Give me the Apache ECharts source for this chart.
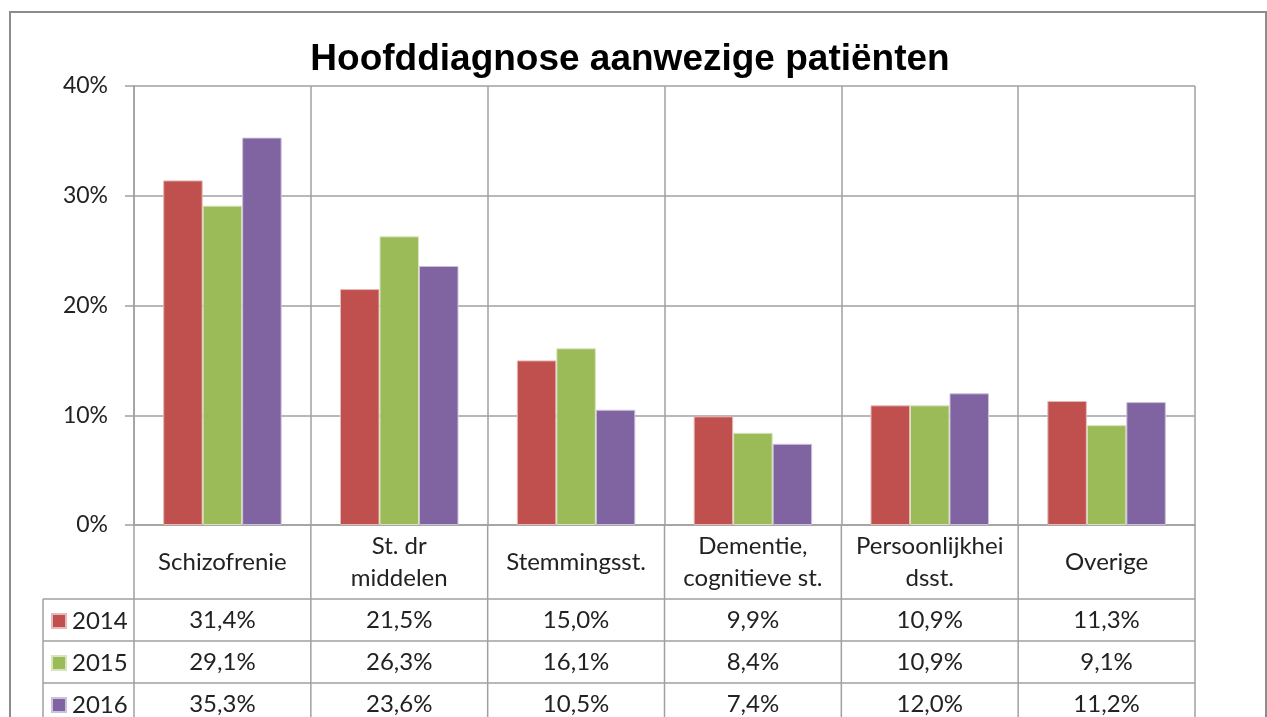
<!DOCTYPE html>
<html>
<head>
<meta charset="utf-8">
<script src="https://cdn.jsdelivr.net/npm/echarts@6/dist/echarts.min.js"></script>
<style>
  html, body { margin:0; padding:0; background:#fff; }
  #main { width:1267px; height:717px; }
</style>
</head>
<body>
<div id="main"></div>
<script>
// data
const categories = ['Schizofrenie', 'St. dr\nmiddelen', 'Stemmingsst.', 'Dementie,\ncognitieve st.', 'Persoonlijkhei\ndsst.', 'Overige']
const years = ['2014', '2015', '2016']
const v2014 = [31.4, 21.5, 15.0, 9.9, 10.9, 11.3]
const v2015 = [29.1, 26.3, 16.1, 8.4, 10.9, 9.1]
const v2016 = [35.3, 23.6, 10.5, 7.4, 12.0, 11.2]
const yTicks = [0, 10, 20, 30, 40]

const rows = [v2014, v2015, v2016]
const colors = ['#c0504d', '#9bbb59', '#8064a2']
const borders = ['#e6b8b7', '#d7e4bd', '#ccc1da']
const font = 'Lato, "Open Sans", sans-serif'
const textColor = '#222'
const gridColor = '#a0a0a0'
const fs = 24

// layout
const L = 134, R = 1195, T = 86, axisY = 525
const tableLeft = 43
const rowLines = [599, 641, 683, 725]

function fmt(v) {
  return v.toFixed(1).replace('.', ',') + '%'
}

let myChart = echarts.init(document.getElementById('main'))

let xAxes = [{
  type: 'category',
  data: categories,
  axisLine: { lineStyle: { color: gridColor, width: 1.5 } },
  axisTick: { show: false },
  splitLine: { show: true, lineStyle: { color: gridColor, width: 1.5 } },
  axisLabel: {
    interval: 0,
    margin: 37,
    verticalAlign: 'middle',
    lineHeight: 32,
    fontSize: fs,
    fontFamily: font,
    color: textColor
  }
}]
rows.forEach((vals, k) => {
  xAxes.push({
    type: 'category',
    position: 'bottom',
    data: categories,
    axisLine: { show: false },
    axisTick: { show: false },
    axisLabel: {
      interval: 0,
      margin: 95 + 42 * k,
      verticalAlign: 'middle',
      fontSize: fs,
      fontFamily: font,
      color: textColor,
      formatter: (v, i) => fmt(vals[i])
    }
  })
})

let band = (R - L) / categories.length
let graphics = [{
  type: 'rect',
  shape: { x: 10, y: 12, width: 1256, height: 800 },
  style: { fill: null, stroke: '#8c8c8c', lineWidth: 2 },
  silent: true
}]
rowLines.forEach(y => {
  graphics.push({
    type: 'line',
    shape: { x1: tableLeft, y1: y, x2: R, y2: y },
    style: { stroke: gridColor, lineWidth: 1.5 }
  })
})
graphics.push({
  type: 'line',
  shape: { x1: tableLeft, y1: rowLines[0], x2: tableLeft, y2: rowLines[3] },
  style: { stroke: gridColor, lineWidth: 1.5 }
})
for (let i = 0; i <= categories.length; i++) {
  let x = L + band * i
  graphics.push({
    type: 'line',
    shape: { x1: x, y1: axisY, x2: x, y2: rowLines[3] },
    style: { stroke: gridColor, lineWidth: 1.5 }
  })
}

myChart.setOption({
  animation: false,
  color: colors,
  textStyle: { fontFamily: font },
  title: {
    text: 'Hoofddiagnose aanwezige patiënten',
    left: 625,
    textAlign: 'center',
    top: 36,
    textStyle: { fontSize: 37, fontWeight: 'bold', color: '#000', fontFamily: '"Liberation Sans", Arial, sans-serif' }
  },
  // one legend per table row
  legend: years.map((y, k) => ({
    data: [y],
    left: 51,
    top: 609 + 42 * k,
    padding: 0,
    icon: 'rect',
    itemWidth: 14,
    itemHeight: 14,
    textStyle: { fontSize: fs, color: textColor, fontFamily: font, padding: [0, 0, 0, 1] }
  })),
  grid: { left: L, right: 1267 - R, top: T, bottom: 717 - axisY },
  xAxis: xAxes,
  yAxis: {
    type: 'value',
    min: yTicks[0],
    max: yTicks[yTicks.length - 1],
    interval: 10,
    axisLine: { show: true, lineStyle: { color: gridColor, width: 1.5 } },
    axisTick: { show: true, length: 9, lineStyle: { color: gridColor, width: 1.5 } },
    splitLine: { show: true, lineStyle: { color: gridColor, width: 1.5 } },
    axisLabel: { margin: 26, fontSize: 23, fontFamily: font, color: textColor, formatter: '{value}%' }
  },
  graphic: graphics,
  series: rows.map((vals, k) => ({
    name: years[k],
    type: 'bar',
    xAxisIndex: 0,
    data: vals,
    barGap: '0%',
    barCategoryGap: '33%',
    itemStyle: { color: colors[k], borderColor: borders[k], borderWidth: 1 }
  }))
})
</script>
</body>
</html>
